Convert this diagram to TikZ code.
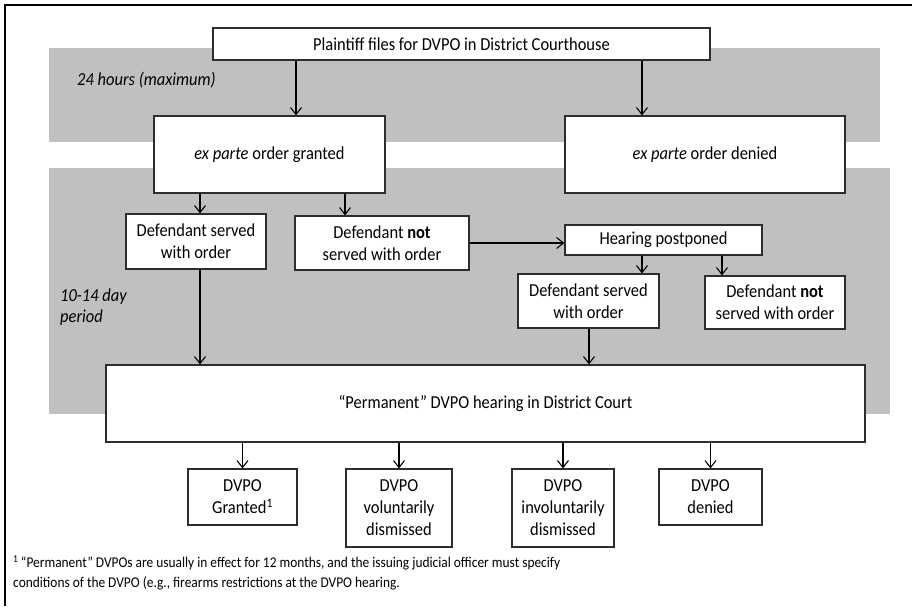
\documentclass[tikz,border=0pt]{standalone}
\usepackage{fontspec}
\setmainfont{Carlito}[FakeStretch=0.9]
\usetikzlibrary{arrows.meta}
\definecolor{bandgray}{RGB}{192,192,192}
\definecolor{boxline}{RGB}{45,45,45}

\begin{document}
\begin{tikzpicture}[x=1pt, y=-1pt,
		box/.style={draw=boxline, line width=1.2pt, fill=white, align=center, inner sep=0pt, font=\fontsize{18.3}{22}\selectfont},
		arr/.style={-{Straight Barb[length=7pt,width=11pt]}, line width=1.1pt},
		note/.style={anchor=west, align=left, inner sep=0pt, font=\fontsize{18.3}{21}\selectfont\itshape}]
		\useasboundingbox (0,0) rectangle (912,606);
		\draw[line width=2pt] (5,606) -- (5,5) -- (912,5);

		\fill[bandgray] (49,48) rectangle (880,142);
		\fill[bandgray] (49,168) rectangle (890,414);
		\node[note] (hrs) at (77,80) {24 hours (maximum)};
		\node[note] (days) at (60,307) {10-14 day\\period};

		\node[box, minimum width=497, minimum height=32] (plaintiff) at (461.5,44) {Plaintiff files for DVPO in District Courthouse};
		\node[box, minimum width=231, minimum height=77] (granted) at (269.5,154.5) {\textit{ex parte} order granted};
		\node[box, minimum width=280, minimum height=77] (denied) at (705,154.5) {\textit{ex parte} order denied};

		\node[box, minimum width=140, minimum height=55] (served) at (196,241.5) {Defendant served\\with order};
		\node[box, minimum width=174, minimum height=54] (notserved) at (382,243) {Defendant \textbf{not}\\served with order};
		\node[box, minimum width=197, minimum height=30] (postponed) at (663.5,240) {Hearing postponed};
		\node[box, minimum width=141, minimum height=54] (served2) at (588.5,301) {Defendant served\\with order};
		\node[box, minimum width=140, minimum height=53] (notserved2) at (775,302.5) {Defendant \textbf{not}\\served with order};

		\node[box, minimum width=759, minimum height=77] (hearing) at (485.5,403.5) {“Permanent” DVPO hearing in District Court};

		\node[box, minimum width=109, minimum height=56] (pgranted) at (242.5,497) {DVPO\\Granted\textsuperscript{1}};
		\node[box, minimum width=106, minimum height=78] (voluntary) at (399,508) {DVPO\\voluntarily\\dismissed};
		\node[box, minimum width=102, minimum height=78] (involuntary) at (563,508) {DVPO\\involuntarily\\dismissed};
		\node[box, minimum width=103, minimum height=56] (pdenied) at (710.5,497) {DVPO\\denied};

		\draw[arr] (296,0 |- plaintiff.south) -- (296,0 |- granted.north);
		\draw[arr] (642,0 |- plaintiff.south) -- (642,0 |- denied.north);
		\draw[arr] (200,0 |- granted.south) -- (200,0 |- served.north);
		\draw[arr] (345,0 |- granted.south) -- (345,0 |- notserved.north);
		\draw[arr] (notserved.east) -- (notserved.east -| postponed.west);
		\draw[arr] (642,0 |- postponed.south) -- (642,0 |- served2.north);
		\draw[arr] (722,0 |- postponed.south) -- (722,0 |- notserved2.north);
		\draw[arr] (200,0 |- served.south) -- (200,0 |- hearing.north);
		\draw[arr] (589,0 |- served2.south) -- (589,0 |- hearing.north);
		\draw[arr] (pgranted.north |- hearing.south) -- (pgranted.north);
		\draw[arr] (voluntary.north |- hearing.south) -- (voluntary.north);
		\draw[arr] (involuntary.north |- hearing.south) -- (involuntary.north);
		\draw[arr] (pdenied.north |- hearing.south) -- (pdenied.north);

		\node[anchor=west, align=left, inner sep=0pt, font=\fontsize{14.9}{20}\selectfont] (footnote) at (13,573) {\textsuperscript{1}\,“Permanent” DVPOs are usually in effect for 12 months, and the issuing judicial officer must specify\\conditions of the DVPO (e.g., firearms restrictions at the DVPO hearing.};
	\end{tikzpicture}
\end{document}
